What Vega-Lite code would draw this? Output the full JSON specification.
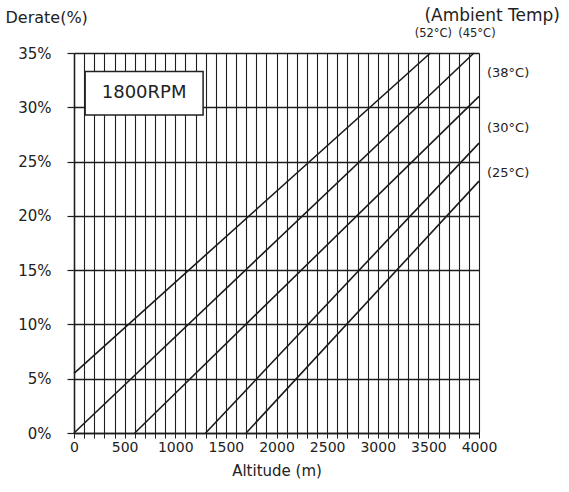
{
  "$schema": "https://vega.github.io/schema/vega-lite/v6.json",
  "width": 405,
  "height": 380,
  "autosize": {"type": "none"},
  "padding": {"left": 74, "top": 53, "right": 90, "bottom": 59},
  "background": "white",
  "config": {
    "view": {"stroke": null},
    "font": "DejaVu Sans",
    "text": {"font": "DejaVu Sans"},
    "axisX": {
      "labelOverlap": false, "labelFlush": false,
      "grid": true, "gridColor": "#1e1e1e", "gridWidth": 1.1, "gridOpacity": 1,
      "domainColor": "#1e1e1e", "domainWidth": 1.5,
      "tickColor": "#1e1e1e", "tickSize": 5, "tickWidth": 1,
      "labelFontSize": 14, "labelColor": "#222", "labelPadding": 2,
      "titleFontSize": 15, "titleFontWeight": "normal", "titleColor": "#222", "titlePadding": 9
    },
    "axisY": {
      "grid": true, "gridColor": "#1e1e1e", "gridWidth": 1.5, "gridOpacity": 1,
      "domainColor": "#1e1e1e", "domainWidth": 1.5,
      "tickColor": "#1e1e1e", "tickSize": 7, "tickWidth": 1.2,
      "labelFontSize": 15, "labelColor": "#222", "labelPadding": 16,
      "titleAngle": 0, "titleAlign": "left", "titleBaseline": "middle",
      "titleX": -69, "titleY": -36, "titleFontSize": 16, "titleFontWeight": "normal", "titleColor": "#222"
    }
  },
  "datasets": {
    "lines": [
      {"temp": "52°C", "altitude": 0, "derate": 5.5},
      {"temp": "52°C", "altitude": 3520, "derate": 35},
      {"temp": "45°C", "altitude": 0, "derate": 0},
      {"temp": "45°C", "altitude": 3950, "derate": 35},
      {"temp": "38°C", "altitude": 600, "derate": 0},
      {"temp": "38°C", "altitude": 4000, "derate": 31},
      {"temp": "30°C", "altitude": 1300, "derate": 0},
      {"temp": "30°C", "altitude": 4000, "derate": 26.7},
      {"temp": "25°C", "altitude": 1700, "derate": 0},
      {"temp": "25°C", "altitude": 4000, "derate": 23.2}
    ],
    "one": [{}]
  },
  "layer": [
    {
      "data": {"name": "lines"},
      "mark": {"type": "line", "color": "#1a1a1a", "strokeWidth": 1.6},
      "encoding": {
        "x": {"field": "altitude", "type": "quantitative", "scale": {"domain": [0, 4000], "nice": false, "zero": false},
          "axis": {"values": [0,100,200,300,400,500,600,700,800,900,1000,1100,1200,1300,1400,1500,1600,1700,1800,1900,2000,2100,2200,2300,2400,2500,2600,2700,2800,2900,3000,3100,3200,3300,3400,3500,3600,3700,3800,3900,4000], "format": "d", "labelExpr": "datum.value % 500 === 0 ? datum.label : ''", "title": "Altitude (m)"}},
        "y": {"field": "derate", "type": "quantitative", "scale": {"domain": [0, 35], "nice": false},
          "axis": {"values": [0,5,10,15,20,25,30,35], "labelExpr": "datum.value + '%'", "title": "Derate(%)"}},
        "detail": {"field": "temp"}
      }
    },
    {
      "data": {"name": "one"},
      "mark": {"type": "rect", "fill": "white", "stroke": "#222", "strokeWidth": 1.5},
      "encoding": {
        "x": {"datum": 110, "type": "quantitative",
          "axis": {"values": [0,100,200,300,400,500,600,700,800,900,1000,1100,1200,1300,1400,1500,1600,1700,1800,1900,2000,2100,2200,2300,2400,2500,2600,2700,2800,2900,3000,3100,3200,3300,3400,3500,3600,3700,3800,3900,4000], "format": "d", "labelExpr": "datum.value % 500 === 0 ? datum.label : ''", "title": "Altitude (m)"}},
        "x2": {"datum": 1275},
        "y": {"datum": 33.3, "type": "quantitative",
          "axis": {"values": [0,5,10,15,20,25,30,35], "labelExpr": "datum.value + '%'", "title": "Derate(%)"}},
        "y2": {"datum": 29.3}
      }
    },
    {
      "data": {"name": "one"},
      "mark": {"type": "text", "text": "1800RPM", "fontSize": 18, "color": "#222", "align": "center", "baseline": "middle"},
      "encoding": {
        "x": {"datum": 692, "type": "quantitative",
          "axis": {"values": [0,100,200,300,400,500,600,700,800,900,1000,1100,1200,1300,1400,1500,1600,1700,1800,1900,2000,2100,2200,2300,2400,2500,2600,2700,2800,2900,3000,3100,3200,3300,3400,3500,3600,3700,3800,3900,4000], "format": "d", "labelExpr": "datum.value % 500 === 0 ? datum.label : ''", "title": "Altitude (m)"}},
        "y": {"datum": 31.3, "type": "quantitative",
          "axis": {"values": [0,5,10,15,20,25,30,35], "labelExpr": "datum.value + '%'", "title": "Derate(%)"}}
      }
    },
    {
      "data": {"name": "one"},
      "mark": {"type": "text", "text": "(Ambient Temp)", "fontSize": 17, "color": "#222", "align": "right", "baseline": "middle", "dx": 81, "dy": -37},
      "encoding": {
        "x": {"datum": 4000, "type": "quantitative",
          "axis": {"values": [0,100,200,300,400,500,600,700,800,900,1000,1100,1200,1300,1400,1500,1600,1700,1800,1900,2000,2100,2200,2300,2400,2500,2600,2700,2800,2900,3000,3100,3200,3300,3400,3500,3600,3700,3800,3900,4000], "format": "d", "labelExpr": "datum.value % 500 === 0 ? datum.label : ''", "title": "Altitude (m)"}},
        "y": {"datum": 35, "type": "quantitative",
          "axis": {"values": [0,5,10,15,20,25,30,35], "labelExpr": "datum.value + '%'", "title": "Derate(%)"}}
      }
    },
    {
      "data": {"name": "lines"},
      "transform": [{"filter": "datum.derate == 35 || datum.altitude == 4000"}],
      "layer": [
        {
          "transform": [{"filter": "datum.temp == '52°C'"}],
          "mark": {"type": "text", "text": "(52°C)", "fontSize": 11.5, "color": "#222", "align": "center", "baseline": "middle", "dx": 3, "dy": -19}
        },
        {
          "transform": [{"filter": "datum.temp == '45°C'"}],
          "mark": {"type": "text", "text": "(45°C)", "fontSize": 11.5, "color": "#222", "align": "center", "baseline": "middle", "dx": 3, "dy": -19}
        },
        {
          "transform": [{"filter": "datum.temp == '38°C'"}],
          "mark": {"type": "text", "text": "(38°C)", "fontSize": 13, "color": "#222", "align": "left", "baseline": "middle", "dx": 8, "dy": -23}
        },
        {
          "transform": [{"filter": "datum.temp == '30°C'"}],
          "mark": {"type": "text", "text": "(30°C)", "fontSize": 13, "color": "#222", "align": "left", "baseline": "middle", "dx": 8, "dy": -15}
        },
        {
          "transform": [{"filter": "datum.temp == '25°C'"}],
          "mark": {"type": "text", "text": "(25°C)", "fontSize": 13, "color": "#222", "align": "left", "baseline": "middle", "dx": 8, "dy": -8}
        }
      ],
      "encoding": {
        "x": {"field": "altitude", "type": "quantitative",
          "axis": {"values": [0,100,200,300,400,500,600,700,800,900,1000,1100,1200,1300,1400,1500,1600,1700,1800,1900,2000,2100,2200,2300,2400,2500,2600,2700,2800,2900,3000,3100,3200,3300,3400,3500,3600,3700,3800,3900,4000], "format": "d", "labelExpr": "datum.value % 500 === 0 ? datum.label : ''", "title": "Altitude (m)"}},
        "y": {"field": "derate", "type": "quantitative",
          "axis": {"values": [0,5,10,15,20,25,30,35], "labelExpr": "datum.value + '%'", "title": "Derate(%)"}}
      }
    }
  ]
}
